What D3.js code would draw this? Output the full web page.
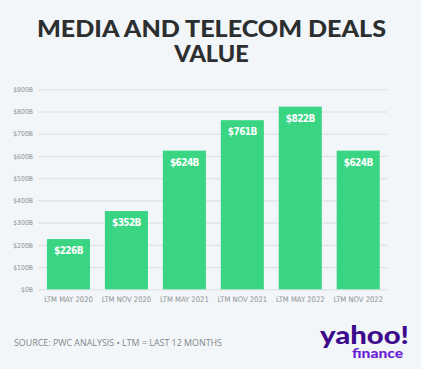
<!DOCTYPE html>
<html><head><meta charset="utf-8">
<script src="https://cdn.jsdelivr.net/npm/d3@7/dist/d3.min.js"></script>
<style>
html,body{margin:0;padding:0;background:#f3f6f8;}
svg{display:block;}
</style></head>
<body>
<svg id="chart" width="421" height="369"></svg>
<script>
const categories = ["LTM MAY 2020","LTM NOV 2020","LTM MAY 2021","LTM NOV 2021","LTM MAY 2022","LTM NOV 2022"];
const values = [226, 352, 624, 761, 822, 624];
const valueLabels = ["$226B","$352B","$624B","$761B","$822B","$624B"];
const yTicks = [0,100,200,300,400,500,600,700,800,900];
const yTickLabels = ["$0B","$100B","$200B","$300B","$400B","$500B","$600B","$700B","$800B","$900B"];
const titleLines = ["MEDIA AND TELECOM DEALS","VALUE"];
const sourceText = "SOURCE: PWC ANALYSIS \u2022 LTM = LAST 12 MONTHS";

const svg = d3.select("#chart");
const W = 421, H = 369;
svg.append("rect").attr("width",W).attr("height",H).attr("fill","#f3f6f8");

const narrow = "'Liberation Sans Narrow','DejaVu Sans Condensed',Arial,sans-serif";

// Title (one text element, two lines)
const title = svg.append("text")
  .attr("text-anchor","middle")
  .attr("font-family","Lato, 'Open Sans', sans-serif")
  .attr("font-weight",900)
  .attr("font-size",23.5)
  .attr("fill","#2c2e30");
title.selectAll("tspan").data(titleLines).join("tspan")
  .attr("x",211.5).attr("y",(d,i)=>37+i*25)
  .attr("textLength",(d,i)=>i===0?349:null)
  .attr("lengthAdjust","spacingAndGlyphs")
  .text(d=>d);

const x = d3.scaleBand().domain(categories).range([39.5,387.2]).paddingInner(0.257).paddingOuter(0.1285);
const y = d3.scaleLinear().domain([0,900]).range([289.3,89.3]);

// gridlines + y labels
const yAxis = d3.axisLeft(y).tickValues(yTicks).tickSize(-(387-38)).tickFormat((d,i)=>yTickLabels[i]).tickPadding(5);
const gy = svg.append("g").attr("transform","translate(38,0)").call(yAxis);
gy.select(".domain").remove();
gy.selectAll(".tick line").attr("stroke","#d9dee2").attr("stroke-width",1);
gy.selectAll(".tick text").attr("fill","#8c9196").attr("font-family",narrow).attr("font-size",6.8);

// bars
svg.append("g").selectAll("rect").data(values).join("rect")
  .attr("x",(d,i)=>x(categories[i]))
  .attr("width",x.bandwidth())
  .attr("y",d=>y(d))
  .attr("height",d=>y(0)-y(d))
  .attr("fill","#3ad583");

// value labels
svg.append("g").selectAll("text").data(values).join("text")
  .attr("x",(d,i)=>x(categories[i])+x.bandwidth()/2)
  .attr("y",d=>y(d)+15)
  .attr("text-anchor","middle")
  .attr("font-family",narrow)
  .attr("font-weight","bold")
  .attr("font-size",10)
  .attr("letter-spacing",-0.6)
  .attr("fill","#ffffff")
  .text((d,i)=>valueLabels[i]);

// x axis
const xAxis = d3.axisBottom(x).tickSize(0).tickPadding(7);
const gx = svg.append("g").attr("transform",`translate(0,${y(0)})`).call(xAxis);
gx.select(".domain").remove();
gx.selectAll(".tick text").attr("fill","#8c9196").attr("font-family",narrow).attr("font-size",7.6);

// source
svg.append("text").attr("x",14).attr("y",346)
  .attr("font-family","'Open Sans','Noto Sans',sans-serif")
  .attr("font-size",8.6).attr("fill","#80868b")
  .attr("textLength",208).attr("lengthAdjust","spacingAndGlyphs")
  .text(sourceText);

// yahoo finance logo (one text element)
const logo = svg.append("text")
  .attr("font-family","Lato, 'Open Sans', sans-serif").attr("font-weight",900);
logo.append("tspan").attr("x",320).attr("y",344)
  .attr("font-size",25).attr("fill","#3d0a8c")
  .attr("textLength",89).attr("lengthAdjust","spacingAndGlyphs")
  .text("yahoo!");
logo.append("tspan").attr("x",352).attr("y",357.5)
  .attr("font-size",13).attr("fill","#6a1fd6")
  .attr("textLength",51).attr("lengthAdjust","spacingAndGlyphs")
  .text("finance");
</script>
</body></html>
